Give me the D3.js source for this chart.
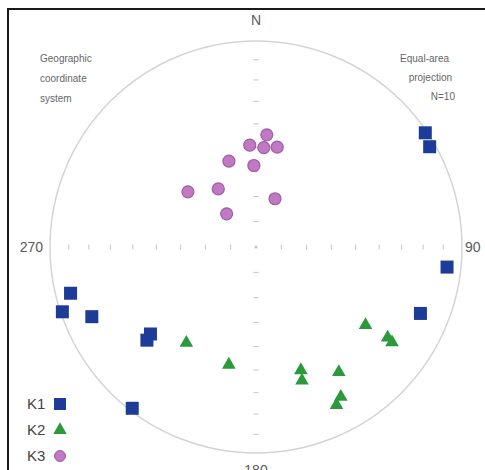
<!DOCTYPE html>
<html>
<head>
<meta charset="utf-8">
<script src="https://cdn.jsdelivr.net/npm/d3@7"></script>
<style>
  body { margin: 0; background: #fff; }
  svg text { font-family: "Liberation Sans", Arial, sans-serif; }
</style>
</head>
<body>
<div id="chart"></div>
<script>
// declination / inclination of each axis (degrees)
var k1Dec = [56, 60, 96, 256, 251.5, 247, 112, 230.5, 229.5, 217.5];
var k1Inc = [1, 3, 7.5, 8, 1, 14.5, 15, 34, 31, 1.5];
var k2Dec = [216, 193, 160, 161, 146.5, 150.5, 153, 125.5, 124.5, 125];
var k2Inc = [42, 41, 36.5, 32, 28, 17.5, 15, 35, 23.5, 20.5];
var k3Dec = [5.5, 356.5, 4.5, 12, 342.5, 358.5, 309, 327, 21.5, 318.5];
var k3Inc = [44.5, 49, 50, 49, 54, 57.5, 55, 62.5, 69.5, 72.5];

var tickDips = [10, 20, 30, 40, 50, 60, 70, 80];
var axisLabels = ["N", "90", "180", "270"];
var legendNames = ["K1", "K2", "K3"];

var width = 485, height = 470;
var cx = 256, cy = 247, R = 206;

var svg = d3.select("#chart").append("svg")
  .attr("width", width)
  .attr("height", height);

// frame (only top & left visible in the crop)
svg.append("path")
  .attr("d", "M8," + height + "L8,9L" + width + ",9")
  .attr("fill", "none")
  .attr("stroke", "#1a1a1a")
  .attr("stroke-width", 2);

var g = svg.append("g").attr("transform", "translate(" + cx + "," + cy + ")");

// equal-area radius: r ~ sqrt(1 - sin(inc))
var rScale = d3.scaleSqrt().domain([0, 1]).range([0, R]);
function proj(dec, inc) {
  var v = 1 - Math.sin(inc * Math.PI / 180);
  return d3.pointRadial(dec * Math.PI / 180, rScale(v));
}

// primitive circle
g.append("circle")
  .attr("r", rScale(1))
  .attr("fill", "none")
  .attr("stroke", "#d4d4d4")
  .attr("stroke-width", 1.5);

// ticks along the two diameters
[0, 90, 180, 270].forEach(function(dir) {
  tickDips.forEach(function(d) {
    var p = proj(dir, d);
    var horiz = (dir == 90 || dir == 270);
    g.append("line")
      .attr("x1", horiz ? p[0] : p[0] - 2.5)
      .attr("x2", horiz ? p[0] : p[0] + 2.5)
      .attr("y1", horiz ? p[1] - 2.5 : p[1])
      .attr("y2", horiz ? p[1] + 2.5 : p[1])
      .attr("stroke", "#c4c4c4")
      .attr("stroke-width", 1);
  });
});
g.append("circle").attr("r", 1.5).attr("fill", "#c4c4c4");

// axis labels
var lab = [
  { t: axisLabels[0], p: [0, -R - 21], a: "middle" },
  { t: axisLabels[1], p: [R + 3, 0], a: "start" },
  { t: axisLabels[2], p: [0, R + 17], a: "middle" },
  { t: axisLabels[3], p: [-R - 7, 0], a: "end" }
];
g.selectAll("text.axlab")
  .data(lab)
  .enter().append("text")
  .attr("class", "axlab")
  .attr("x", function(d) { return d.p[0]; })
  .attr("y", function(d) { return d.p[1]; })
  .attr("dy", "0.36em")
  .attr("text-anchor", function(d) { return d.a; })
  .attr("fill", "#5a5a5a")
  .style("font-size", "14px")
  .text(function(d) { return d.t; });

// corner notes
var leftNote = ["Geographic", "coordinate", "system"];
var rightNote = ["Equal-area", "projection", "N=10"];
svg.selectAll("text.lnote")
  .data(leftNote)
  .enter().append("text")
  .attr("class", "lnote")
  .attr("x", 40)
  .attr("y", function(d, i) { return 62 + i * 20; })
  .attr("fill", "#666")
  .style("font-size", "10px")
  .text(function(d) { return d; });
svg.selectAll("text.rnote")
  .data(rightNote)
  .enter().append("text")
  .attr("class", "rnote")
  .attr("x", function(d, i) { return [449, 452, 455][i]; })
  .attr("y", function(d, i) { return 62 + i * 19; })
  .attr("text-anchor", "end")
  .attr("fill", "#666")
  .style("font-size", "10px")
  .text(function(d) { return d; });

var blue = "#1d3c97", green = "#2a9a3c", purple = "#c07ac4", purpleDark = "#a25aa7";

function pts(decs, incs) {
  return decs.map(function(d, i) { return proj(d, incs[i]); });
}

// K3 circles
g.selectAll("circle.k3")
  .data(pts(k3Dec, k3Inc))
  .enter().append("circle")
  .attr("class", "k3")
  .attr("cx", function(d) { return d[0]; })
  .attr("cy", function(d) { return d[1]; })
  .attr("r", 6)
  .attr("fill", purple)
  .attr("stroke", purpleDark)
  .attr("stroke-width", 1.2);

// K2 triangles
var tri = d3.symbol().type(d3.symbolTriangle).size(80);
g.selectAll("path.k2")
  .data(pts(k2Dec, k2Inc))
  .enter().append("path")
  .attr("class", "k2")
  .attr("d", tri)
  .attr("transform", function(d) { return "translate(" + d[0] + "," + d[1] + ")"; })
  .attr("fill", green);

// K1 squares
g.selectAll("rect.k1")
  .data(pts(k1Dec, k1Inc))
  .enter().append("rect")
  .attr("class", "k1")
  .attr("x", function(d) { return d[0] - 6.5; })
  .attr("y", function(d) { return d[1] - 6.5; })
  .attr("width", 13)
  .attr("height", 13)
  .attr("fill", blue);

// legend
var leg = svg.append("g").attr("transform", "translate(27,404)");
legendNames.forEach(function(n, i) {
  var y = i * 26;
  leg.append("text")
    .attr("x", 0).attr("y", y).attr("dy", "0.36em")
    .attr("fill", "#444")
    .style("font-size", "15px")
    .text(n);
  if (i == 0) {
    leg.append("rect").attr("x", 27).attr("y", y - 6).attr("width", 12).attr("height", 12).attr("fill", blue);
  } else if (i == 1) {
    leg.append("path").attr("d", tri).attr("transform", "translate(33," + y + ")").attr("fill", green);
  } else {
    leg.append("circle").attr("cx", 33).attr("cy", y).attr("r", 5.5)
      .attr("fill", purple).attr("stroke", purpleDark).attr("stroke-width", 1);
  }
});
</script>
</body>
</html>
